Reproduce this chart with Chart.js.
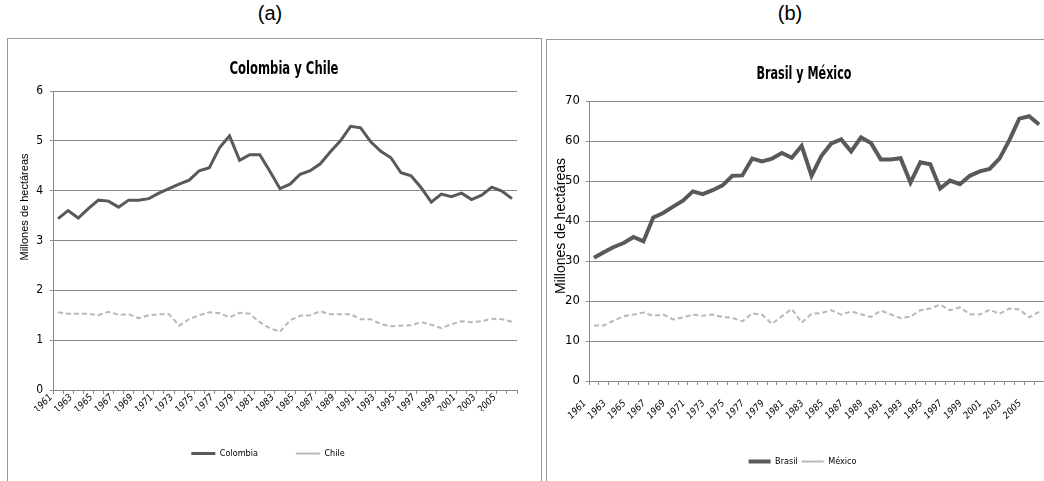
<!DOCTYPE html>
<html lang="es">
<head>
<meta charset="utf-8">
<title>Colombia y Chile / Brasil y México</title>
<script src="https://cdn.jsdelivr.net/npm/chart.js@4/dist/chart.umd.min.js"></script>
<style>
  html, body { margin: 0; padding: 0; background: #fff; }
  body { width: 1044px; height: 481px; position: relative; overflow: hidden; font-family: 'Liberation Sans', Arial, sans-serif; }
  .tag { position: absolute; top: 0; width: 60px; font-size: 20px; line-height: 26px; text-align: center; color: #000; }
  .panel { position: absolute; border: 1px solid #9a9a9a; border-bottom: none; }
  canvas { position: absolute; top: 0; }
</style>
</head>
<body>
<div class="tag" style="left:240px">(a)</div>
<div class="tag" style="left:760px">(b)</div>
<div class="panel" style="left:7px; top:38px; width:533px; height:450px"></div>
<div class="panel" style="left:546px; top:39px; width:500px; height:450px"></div>
<canvas id="chartA" width="540" height="481" style="left:0"></canvas>
<canvas id="chartB" width="504" height="481" style="left:540px"></canvas>

<script>
// años (categorías)
const years = ['1961','1962','1963','1964','1965','1966','1967','1968','1969','1970',
  '1971','1972','1973','1974','1975','1976','1977','1978','1979','1980',
  '1981','1982','1983','1984','1985','1986','1987','1988','1989','1990',
  '1991','1992','1993','1994','1995','1996','1997','1998','1999','2000',
  '2001','2002','2003','2004','2005','2006'];

// etiquetas visibles del eje x (un año de cada dos)
const xTickLabels = ['1961','1963','1965','1967','1969','1971','1973','1975','1977','1979',
  '1981','1983','1985','1987','1989','1991','1993','1995','1997','1999','2001','2003','2005'];

// millones de hectáreas
const colombia = [3.44, 3.60, 3.45, 3.64, 3.81, 3.79, 3.67, 3.81, 3.81, 3.84,
  3.95, 4.04, 4.13, 4.21, 4.40, 4.46, 4.86, 5.10, 4.61, 4.72,
  4.72, 4.39, 4.04, 4.13, 4.33, 4.40, 4.54, 4.78, 5.00, 5.29,
  5.26, 4.98, 4.79, 4.66, 4.36, 4.30, 4.06, 3.77, 3.93, 3.88,
  3.95, 3.82, 3.91, 4.07, 3.99, 3.84];
const chile = [1.56, 1.53, 1.53, 1.53, 1.50, 1.57, 1.51, 1.52, 1.44, 1.50,
  1.52, 1.52, 1.29, 1.42, 1.50, 1.56, 1.54, 1.46, 1.55, 1.53,
  1.36, 1.24, 1.17, 1.40, 1.49, 1.50, 1.58, 1.52, 1.52, 1.52,
  1.42, 1.42, 1.32, 1.28, 1.29, 1.30, 1.36, 1.31, 1.24, 1.32,
  1.38, 1.36, 1.38, 1.43, 1.42, 1.37];
const brasil = [30.8, 32.2, 33.5, 34.5, 36.0, 34.9, 40.9, 42.0, 43.6, 45.1,
  47.4, 46.7, 47.7, 48.9, 51.3, 51.4, 55.6, 54.9, 55.6, 57.0,
  55.8, 58.8, 51.3, 56.3, 59.4, 60.4, 57.4, 60.9, 59.5, 55.4,
  55.4, 55.7, 49.6, 54.7, 54.2, 48.1, 50.1, 49.2, 51.3, 52.4,
  53.0, 55.6, 60.2, 65.6, 66.2, 64.1];
const mexico = [13.9, 13.9, 15.1, 16.2, 16.6, 17.1, 16.3, 16.6, 15.4, 15.9,
  16.6, 16.3, 16.6, 16.0, 15.8, 14.9, 16.9, 16.6, 14.3, 16.2,
  18.0, 14.6, 16.8, 17.0, 17.7, 16.6, 17.4, 16.7, 16.0, 17.6,
  16.7, 15.7, 16.1, 17.7, 18.1, 19.1, 17.7, 18.4, 16.7, 16.6,
  17.8, 16.8, 18.1, 17.9, 15.9, 17.3];

const NARROW = "'Liberation Sans Narrow', 'DejaVu Sans Condensed', 'Liberation Sans', sans-serif";
const GRID = '#8a8a8a';

// título del gráfico (comprimido al ancho del original) y título del eje vertical
const panelText = {
  id: 'panelText',
  afterDraw(chart, args, opts) {
    const ctx = chart.ctx;
    ctx.save();
    ctx.fillStyle = '#000';
    ctx.textAlign = 'center';
    ctx.textBaseline = 'middle';
    ctx.font = opts.titleFont;
    const w = ctx.measureText(opts.title).width;
    ctx.translate(opts.titleX, opts.titleY);
    ctx.scale(Math.min(1, opts.titleWidth / w), 1);
    ctx.fillText(opts.title, 0, 0);
    ctx.restore();

    ctx.save();
    ctx.fillStyle = '#000';
    ctx.textAlign = 'center';
    ctx.textBaseline = 'middle';
    ctx.translate(opts.axisX, opts.axisY);
    ctx.rotate(-Math.PI / 2);
    ctx.font = opts.axisFont;
    ctx.fillText(opts.axisTitle, 0, 0);
    ctx.restore();
  }
};

function makeChart(id, names, series, p) {
  new Chart(document.getElementById(id), {
    type: 'line',
    data: {
      labels: years,
      datasets: [
        { label: names[0], data: series[0], borderColor: '#595959', borderWidth: p.mainWidth,
          pointRadius: 0, tension: 0, fill: false },
        { label: names[1], data: series[1], borderColor: '#b8b8b8', borderWidth: 2,
          borderDash: [5, 3], pointRadius: 0, tension: 0, fill: false }
      ]
    },
    options: {
      responsive: false,
      animation: false,
      layout: { padding: p.padding },
      plugins: {
        title: { display: false },
        tooltip: { enabled: false },
        legend: {
          position: 'bottom',
          labels: {
            usePointStyle: true,
            pointStyle: 'line',
            pointStyleWidth: p.legendLine,
            padding: p.legendPad,
            color: '#000',
            font: { family: NARROW, size: 9 }
          }
        },
        panelText: p.text
      },
      scales: {
        x: {
          offset: true,
          grid: { offset: true, drawOnChartArea: false, drawTicks: true, tickLength: 4, color: GRID },
          border: { color: GRID, width: 1 },
          ticks: {
            autoSkip: false, maxRotation: 45, minRotation: 45,
            padding: p.xPad, labelOffset: p.xShift, color: '#000',
            font: { family: NARROW, size: 9.5, style: 'italic' },
            callback: (v, i) => xTickLabels.includes(years[i]) ? years[i] : ''
          },
          afterFit: s => { s.height = p.xHeight; s.paddingLeft = 0; s.paddingRight = 0; }
        },
        y: {
          min: 0, max: p.yMax,
          grid: { color: GRID, lineWidth: 1, drawTicks: true, tickLength: 3 },
          border: { color: GRID, width: 1 },
          ticks: { stepSize: p.yStep, padding: p.yPad, color: '#000',
                   font: { family: NARROW, size: p.yFont } },
          afterFit: s => { s.width = p.yWidth; }
        }
      }
    },
    plugins: [panelText]
  });
}

makeChart('chartA', ['Colombia', 'Chile'], [colombia, chile], {
  mainWidth: 3,
  padding: { top: 91, left: 19, right: 23, bottom: 13 },
  legendLine: 24, legendPad: 38,
  xPad: -2, xShift: -7, xHeight: 21,
  yMax: 6, yStep: 1, yPad: 7, yFont: 12, yWidth: 34,
  text: { title: 'Colombia y Chile', titleX: 284, titleY: 70, titleWidth: 109, titleFont: 'bold 17px ' + NARROW,
          axisTitle: 'Millones de hectáreas', axisX: 25, axisY: 207, axisFont: "11px 'Liberation Sans', Arial, sans-serif" }
});

makeChart('chartB', ['Brasil', 'México'], [brasil, mexico], {
  mainWidth: 4,
  padding: { top: 101, left: 21, right: 0, bottom: 5 },
  legendLine: 22, legendPad: 4,
  xPad: 13, xShift: -9, xHeight: 72,
  yMax: 70, yStep: 10, yPad: 6, yFont: 13, yWidth: 28,
  text: { title: 'Brasil y México', titleX: 264, titleY: 74, titleWidth: 95, titleFont: 'bold 18px ' + NARROW,
          axisTitle: 'Millones de hectáreas', axisX: 21, axisY: 226, axisFont: "14px 'Liberation Sans', Arial, sans-serif" }
});
</script>
</body>
</html>
